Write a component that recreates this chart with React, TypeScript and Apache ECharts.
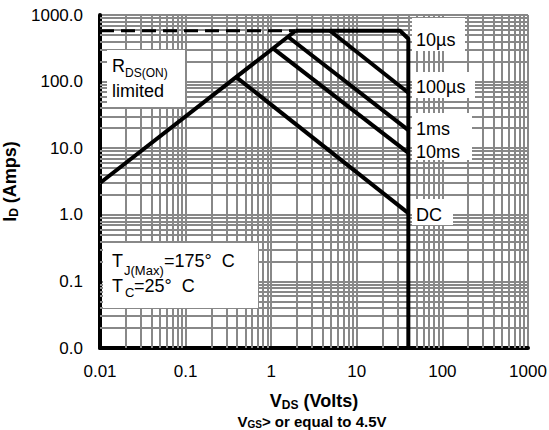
import React, { useEffect, useRef } from 'react';
import * as echarts from 'echarts';

// ---- data ----
const xTicks = [0.01, 0.1, 1, 10, 100, 1000];
const yTicks = [0.01, 0.1, 1, 10, 100, 1000];
const decades = [0.01, 0.1, 1, 10, 100];
const minorSteps = [2, 3, 4, 5, 6, 7, 8, 9];

const rdsV = [0.01, 1.93];
const rdsI = [3.0, 580];
const dashV = [0.01, 1.93];
const dashI = [580, 580];
const us10V = [1.93, 32, 40, 40];
const us10I = [580, 580, 440, 0.01];
const us100V = [4.87, 40];
const us100I = [580, 68];
const ms1V = [1.57, 40];
const ms1I = [471, 18.7];
const ms10V = [1.05, 40];
const ms10I = [315, 8.5];
const dcV = [0.39, 40];
const dcI = [117, 1.06];

const FONT = "'Liberation Sans', Arial, Helvetica, sans-serif";
const GRID = '#888888';

const zip = (a: number[], b: number[]) => a.map((v, i) => [v, b[i]]);

const minorValues: number[] = [];
decades.forEach((d) => minorSteps.forEach((m) => minorValues.push(+(d * m).toPrecision(3))));

function curve(name: string, data: number[][], dashed = false) {
  return {
    name,
    type: 'line',
    data,
    showSymbol: false,
    symbol: 'none',
    silent: true,
    z: 5,
    lineStyle: { color: '#000', width: dashed ? 3 : 4, type: dashed ? [14, 7] : 'solid' },
  };
}

function txt(text: string, x: number, y: number, size: number, extra: any = {}) {
  return {
    type: 'text',
    x,
    y,
    z: 101,
    silent: true,
    style: {
      text,
      fontSize: size,
      fontFamily: FONT,
      fill: '#000',
      align: 'left',
      verticalAlign: 'middle',
      textAlign: 'left',
      textVerticalAlign: 'middle',
      ...extra,
    },
  };
}

function box(x: number, y: number, w: number, h: number) {
  return { type: 'rect', z: 100, silent: true, shape: { x, y, width: w, height: h }, style: { fill: '#fff' } };
}

export default function App() {
  const ref = useRef<HTMLDivElement>(null);
  useEffect(() => {
    if (!ref.current) return;
    const chart = echarts.init(ref.current, undefined, { renderer: 'svg' });
    const axisCommon = {
      type: 'log',
      logBase: 10,
      min: 0.01,
      max: 1000,
      z: 3,
      axisTick: { show: false },
      splitLine: { show: true, lineStyle: { color: GRID, width: 2 } },
      axisLine: { show: true, onZero: false, lineStyle: { color: '#000', width: 4 } },
      nameLocation: 'middle',
    };
    const option: any = {
      animation: false,
      backgroundColor: '#fff',
      grid: { left: 100, right: 21, top: 15, bottom: 82, containLabel: false, outerBoundsMode: 'none' },
      xAxis: {
        ...axisCommon,
        axisLabel: {
          margin: 15,
          fontSize: 17,
          color: '#000',
          fontFamily: FONT,
          formatter: (v: number) => String(+v.toPrecision(1)),
        },
        name: '{b|V}{s|DS}{b| (Volts)}',
        nameGap: 43,
        nameTextStyle: {
          rich: {
            b: { fontSize: 18, fontWeight: 'bold', fontFamily: FONT, color: '#000', lineHeight: 20 },
            s: { fontSize: 12, fontWeight: 'bold', fontFamily: FONT, color: '#000', lineHeight: 13, padding: [8, 0, 0, 0] },
          },
        },
      },
      yAxis: {
        ...axisCommon,
        axisLabel: {
          margin: 17,
          fontSize: 17,
          color: '#000',
          fontFamily: FONT,
          formatter: (v: number) => v.toFixed(1),
        },
        name: '{b|I}{s|D}{b| (Amps)}',
        nameGap: 73,
        nameRotate: 90,
        nameTextStyle: {
          rich: {
            b: { fontSize: 18, fontWeight: 'bold', fontFamily: FONT, color: '#000', lineHeight: 20 },
            s: { fontSize: 12, fontWeight: 'bold', fontFamily: FONT, color: '#000', lineHeight: 13, padding: [8, 0, 0, 0] },
          },
        },
      },
      series: [
        {
          name: 'grid',
          type: 'line',
          data: [[xTicks[0], yTicks[0]]],
          showSymbol: false,
          symbol: 'none',
          lineStyle: { opacity: 0 },
          silent: true,
          z: 1,
          markLine: {
            silent: true,
            symbol: ['none', 'none'],
            label: { show: false },
            animation: false,
            lineStyle: { color: GRID, width: 2, type: 'solid' },
            emphasis: { disabled: true },
            data: [
              ...minorValues.map((v) => ({ xAxis: v })),
              ...minorValues.map((v) => ({ yAxis: v })),
            ],
          },
        },
        curve('RDS(on) limit', zip(rdsV, rdsI)),
        curve('dash', zip(dashV, dashI), true),
        curve('10us', zip(us10V, us10I)),
        curve('100us', zip(us100V, us100I)),
        curve('1ms', zip(ms1V, ms1I)),
        curve('10ms', zip(ms10V, ms10I)),
        curve('DC', zip(dcV, dcI)),
      ],
      graphic: [
        box(107, 50, 78, 57),
        txt('R', 112, 66, 18),
        txt('DS(ON)', 125, 73, 12),
        txt('limited', 112, 91, 18),
        box(103, 243, 155, 65),
        txt('T', 112, 261, 18),
        txt('J(Max)', 124, 270, 13),
        txt('=175°  C', 164, 261, 18),
        txt('T', 112, 286, 18),
        txt('C', 125, 292, 13),
        txt('=25°  C', 134, 286, 18),
        box(412, 18, 53, 33),
        txt('10µs', 416, 40, 18),
        box(412, 72, 63, 26),
        txt('100µs', 416, 87, 18),
        box(412, 113, 60, 47),
        txt('1ms', 416, 129, 18),
        txt('10ms', 416, 152, 18),
        box(412, 199, 41, 26),
        txt('DC', 416, 215, 18),
        {
          type: 'text',
          x: 312,
          y: 421,
          z: 101,
          silent: true,
          style: {
            text: '{b|V}{s|GS}{b|> or equal to 4.5V}',
            align: 'center',
            verticalAlign: 'middle',
            textAlign: 'center',
            textVerticalAlign: 'middle',
            rich: {
              b: { fontSize: 15, fontWeight: 'bold', fontFamily: FONT, fill: '#000', lineHeight: 17 },
              s: { fontSize: 10, fontWeight: 'bold', fontFamily: FONT, fill: '#000', lineHeight: 11, padding: [7, 0, 0, 0] },
            },
          },
        },
      ],
    };
    chart.setOption(option);
    return () => chart.dispose();
  }, []);
  return (
    <div
      ref={ref}
      style={{ position: 'fixed', left: 0, top: 0, width: 549, height: 430, background: '#fff' }}
    />
  );
}
